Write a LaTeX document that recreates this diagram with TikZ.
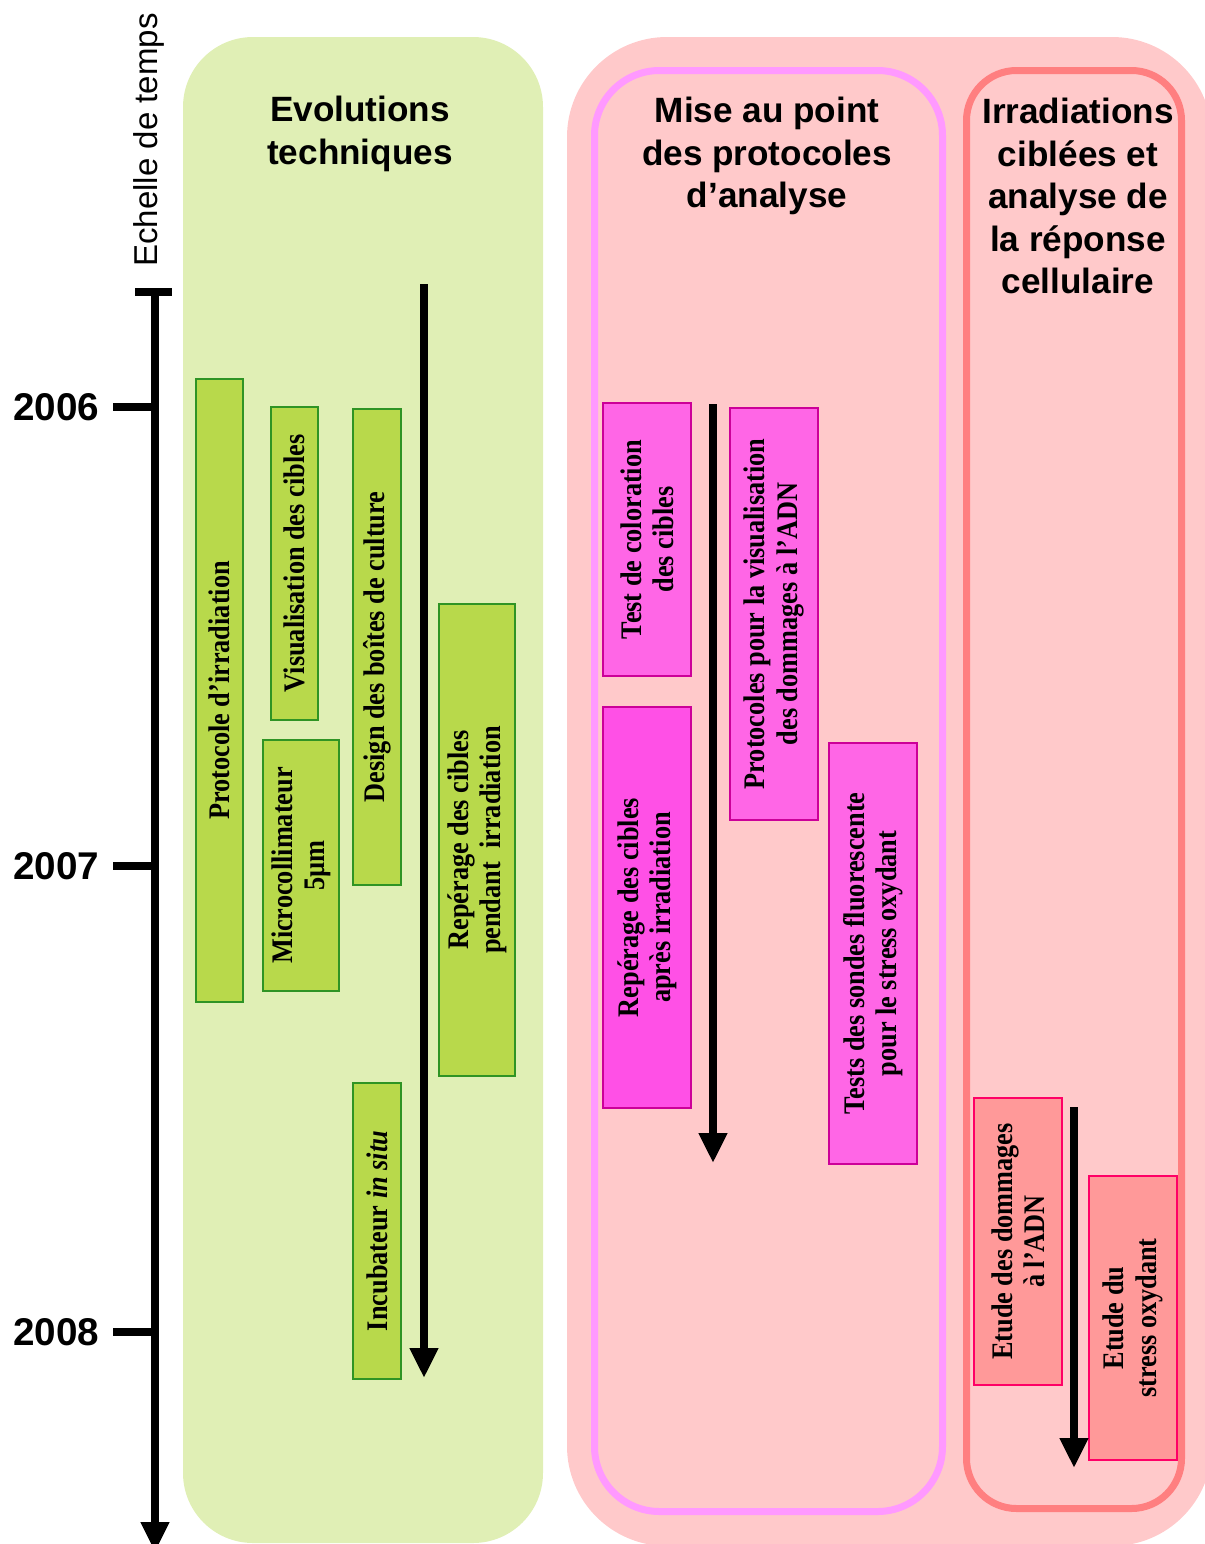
\documentclass[tikz,border=0pt]{standalone}
\usepackage{fontspec}
\setmainfont{Liberation Serif}
\setsansfont{Liberation Sans}
\newfontfamily\boxfont{Liberation Serif}[FakeStretch=0.88]
\usepackage{tikz}
\usetikzlibrary{arrows.meta}
\definecolor{greenpanel}{HTML}{E0EFB5}
\definecolor{greenfill}{HTML}{B8D94B}
\definecolor{greenline}{HTML}{2F9424}
\definecolor{pinkpanel}{HTML}{FFC9CA}
\definecolor{magpanel}{HTML}{FF99FF}
\definecolor{redpanel}{HTML}{FF7F80}
\definecolor{magfill}{HTML}{FF66E6}
\definecolor{magfilldark}{HTML}{FF50E6}
\definecolor{magline}{HTML}{CC0099}
\definecolor{redfill}{HTML}{FF9999}
\definecolor{redline}{HTML}{FF0066}
\tikzset{
  tbox/.style={
    rotate=90,
    inner sep=0pt,
    align=center,
    line width=0.6pt,
    font=\boxfont\bfseries\fontsize{8.5}{9.2}\selectfont
  },
  greenbox/.style={tbox, draw=greenline, fill=greenfill},
  magbox/.style={tbox, draw=magline, fill=magfill},
  redbox/.style={tbox, draw=redline, fill=redfill},
  heading/.style={
    align=center,
    inner sep=0pt,
    font=\sffamily\bfseries\fontsize{10}{12.1}\selectfont
  },
  year/.style={
    anchor=east,
    inner sep=0pt,
    font=\sffamily\bfseries\fontsize{11}{13}\selectfont
  },
  timeline/.style={
    line width=0.08cm,
    -{Triangle[length=0.3cm,width=0.27cm]}
  },
  tick/.style={line width=0.08cm}
}
\begin{document}
\begin{tikzpicture}
    \useasboundingbox (0,0) rectangle (12.05,-15.44);
    % panels
    \fill[greenpanel, rounded corners=0.7cm] (1.83,-0.37) rectangle (5.43,-15.43);
    \fill[pinkpanel, rounded corners=1cm] (5.67,-0.37) rectangle (12.12,-15.46);
    \draw[magpanel, line width=0.07cm, rounded corners=0.65cm] (5.945,-0.705) rectangle (9.425,-15.115);
    \draw[redpanel, line width=0.07cm, rounded corners=0.5cm] (9.665,-0.705) rectangle (11.815,-15.085);

    % time scale
    \coordinate (axtop) at (1.55,-2.92);
    \coordinate (axbot) at (1.55,-15.52);
    \draw[timeline] (axtop) -- (axbot);
    \draw[tick] (1.35,-2.92) -- (1.72,-2.92);
    \node[rotate=90, inner sep=0pt, font=\sffamily\fontsize{9.4}{11}\selectfont] (echelle) at (1.49,-1.40) {Echelle de temps};
    \foreach \yr/\y in {2006/-4.07, 2007/-8.66, 2008/-13.32}{
        \draw[tick] (1.13,\y) -- (1.55,\y);
        \node[year] (y\yr) at (1.00,\y) {\yr};
    }

    % headings
    \node[heading] (evol) at (3.60,-1.34) {Evolutions\\techniques};
    \node[heading] (mise) at (7.67,-1.56) {Mise au point\\des protocoles\\d’analyse};
    \node[heading] (irr) at (10.78,-1.96) {Irradiations\\ciblées et\\analyse de\\la réponse\\cellulaire};

    % evolutions techniques
    \node[greenbox, minimum width=6.23cm, minimum height=0.47cm] (protirr) at (2.195,-6.905) {Protocole d’irradiation};
    \node[greenbox, minimum width=3.13cm, minimum height=0.47cm] (visu) at (2.945,-5.635) {Visualisation des cibles};
    \node[greenbox, minimum width=2.51cm, minimum height=0.76cm] (micro) at (3.01,-8.655) {Microcollimateur\\5µm};
    \node[greenbox, minimum width=4.76cm, minimum height=0.48cm] (design) at (3.77,-6.47) {Design des boîtes de culture};
    \node[greenbox, minimum width=4.72cm, minimum height=0.76cm] (reppend) at (4.77,-8.40) {Repérage des cibles\\pendant\ \ irradiation};
    \node[greenbox, minimum width=2.96cm, minimum height=0.48cm] (incub) at (3.77,-12.31) {Incubateur \textit{in situ}};
    \coordinate (evtop) at (4.24,-2.84);
    \coordinate (evbot) at (4.24,-13.78);
    \draw[timeline] (evtop) -- (evbot);

    % mise au point des protocoles
    \node[magbox, minimum width=2.73cm, minimum height=0.88cm] (testcol) at (6.47,-5.395) {Test de coloration\\des cibles};
    \node[magbox, fill=magfilldark, minimum width=4.01cm, minimum height=0.88cm] (repapres) at (6.47,-9.075) {Repérage des cibles\\après irradiation};
    \node[magbox, minimum width=4.12cm, minimum height=0.88cm] (protvisu) at (7.74,-6.14) {Protocoles pour la visualisation\\des dommages à l’ADN};
    \node[magbox, minimum width=4.21cm, minimum height=0.88cm] (sondes) at (8.73,-9.535) {Tests des sondes fluorescente\\pour le stress oxydant};
    \coordinate (mptop) at (7.13,-4.04);
    \coordinate (mpbot) at (7.13,-11.63);
    \draw[timeline] (mptop) -- (mpbot);

    % irradiations ciblees
    \node[redbox, minimum width=2.87cm, minimum height=0.88cm] (etadn) at (10.18,-12.415) {Etude des dommages\\à l’ADN};
    \node[redbox, minimum width=2.84cm, minimum height=0.88cm] (etstress) at (11.33,-13.18) {Etude du\\stress oxydant};
    \coordinate (irtop) at (10.74,-11.07);
    \coordinate (irbot) at (10.74,-14.68);
    \draw[timeline] (irtop) -- (irbot);
\end{tikzpicture}
\end{document}
